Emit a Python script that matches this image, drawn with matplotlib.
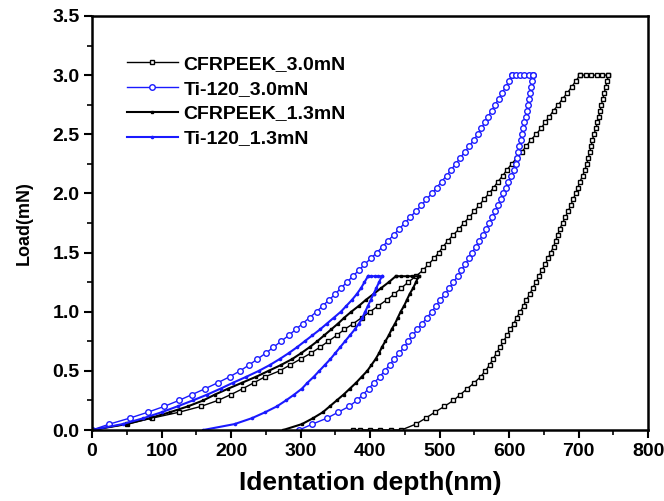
import matplotlib
matplotlib.use('Agg')
import matplotlib.pyplot as plt
from matplotlib.ticker import MultipleLocator

plt.rcParams['font.family'] = ['Liberation Sans', 'DejaVu Sans']
plt.rcParams['font.weight'] = 'bold'

# Load steps (mN) used for every branch
load_30 = [0.00, 0.05, 0.10, 0.15, 0.20, 0.25, 0.30, 0.35, 0.40, 0.45,
           0.50, 0.55, 0.60, 0.65, 0.70, 0.75, 0.80, 0.85, 0.90, 0.95,
           1.00, 1.05, 1.10, 1.15, 1.20, 1.25, 1.30, 1.35, 1.40, 1.45,
           1.50, 1.55, 1.60, 1.65, 1.70, 1.75, 1.80, 1.85, 1.90, 1.95,
           2.00, 2.05, 2.10, 2.15, 2.20, 2.25, 2.30, 2.35, 2.40, 2.45,
           2.50, 2.55, 2.60, 2.65, 2.70, 2.75, 2.80, 2.85, 2.90, 2.95, 3.00]
load_13 = [0.00, 0.05, 0.10, 0.15, 0.20, 0.25, 0.30, 0.35, 0.40, 0.45,
           0.50, 0.55, 0.60, 0.65, 0.70, 0.75, 0.80, 0.85, 0.90, 0.95,
           1.00, 1.05, 1.10, 1.15, 1.20, 1.25, 1.30]

# CFRPEEK 3.0 mN (depth in nm)
cf30_load_depth = [0, 50, 86, 125, 157, 181, 200, 217, 233, 249,
                   270, 285, 300, 315, 328, 340, 352, 363, 376, 388,
                   400, 412, 424, 435, 445, 455, 466, 476, 484, 492,
                   499, 505, 512, 520, 528, 535, 543, 550, 557, 564,
                   571, 578, 584, 591, 597, 604, 611, 618, 625, 631,
                   639, 646, 652, 658, 664, 671, 677, 684, 690, 696, 702]
cf30_hold_depth = [702, 710, 718, 726, 734, 743]
cf30_hold_load = [3.0, 3.0, 3.0, 3.0, 3.0, 3.0]
# unloading, listed from 3.00 mN down to 0
cf30_unload_depth = [743, 741, 739, 737, 735, 733, 731, 729, 727, 725,
                     722, 720, 718, 716, 714, 712, 709, 706, 702, 699,
                     696, 692, 689, 685, 681, 677, 673, 670, 667, 664,
                     660, 656, 652, 647, 643, 639, 634, 630, 625, 621,
                     616, 611, 607, 602, 597, 592, 587, 582, 577, 572,
                     566, 559, 550, 540, 530, 520, 507, 493, 480, 466, 445]
cf30_tail_depth = [430, 415, 400, 385, 375]
cf30_tail_load = [0.0, 0.0, 0.0, 0.0, 0.0]

# Ti-120 3.0 mN
ti30_load_depth = [0, 25, 54, 80, 104, 125, 144, 163, 181, 198,
                   213, 226, 238, 250, 261, 272, 283, 293, 303, 313,
                   323, 332, 341, 350, 358, 367, 375, 384, 392, 401,
                   410, 418, 426, 434, 442, 450, 458, 466, 474, 481,
                   489, 496, 503, 510, 517, 523, 530, 536, 543, 549,
                   555, 560, 565, 570, 575, 580, 585, 590, 595, 600, 604]
ti30_hold_depth = [604, 610, 616, 622, 628, 635]
ti30_hold_load = [3.0, 3.0, 3.0, 3.0, 3.0, 3.0]
ti30_unload_depth = [635, 633, 632, 630, 629, 627, 626, 624, 622, 620,
                     619, 617, 615, 613, 612, 610, 607, 603, 599, 596,
                     592, 588, 584, 580, 576, 571, 567, 562, 557, 552,
                     547, 542, 537, 531, 526, 520, 514, 508, 501, 495,
                     489, 482, 475, 468, 461, 455, 449, 442, 435, 428,
                     421, 414, 406, 398, 390, 381, 370, 354, 338, 317, 298]

# CFRPEEK 1.3 mN
cf13_load_depth = [0, 50, 83, 112, 138, 160, 177, 196, 216, 236,
                   254, 272, 288, 301, 313, 324, 334, 344, 354, 363,
                   373, 384, 394, 405, 416, 427, 437]
cf13_hold_depth = [437, 445, 453, 461, 470]
cf13_hold_load = [1.3, 1.3, 1.3, 1.3, 1.3]
cf13_unload_depth = [470, 466, 462, 457, 453, 449, 444, 440, 436, 431,
                     427, 422, 417, 413, 408, 402, 396, 388, 380, 371,
                     362, 352, 342, 332, 318, 302, 275]

# Ti-120 1.3 mN
ti13_load_depth = [0, 44, 74, 100, 123, 145, 166, 185, 203, 222,
                   240, 256, 270, 283, 295, 306, 317, 328, 338, 348,
                   358, 366, 374, 381, 387, 392, 397]
ti13_hold_depth = [397, 402, 407, 412, 417]
ti13_hold_load = [1.3, 1.3, 1.3, 1.3, 1.3]
ti13_unload_depth = [417, 413, 409, 405, 401, 397, 393, 389, 384, 378,
                     371, 364, 357, 350, 343, 335, 327, 319, 310, 302,
                     291, 279, 266, 249, 230, 205, 160]

x_ticks = [0, 100, 200, 300, 400, 500, 600, 700, 800]
y_ticks = [0.0, 0.5, 1.0, 1.5, 2.0, 2.5, 3.0, 3.5]

# assemble full cycles: loading -> hold -> unloading
cf30_x = cf30_load_depth + cf30_hold_depth + cf30_unload_depth + cf30_tail_depth
cf30_y = load_30 + cf30_hold_load + load_30[::-1] + cf30_tail_load
ti30_x = ti30_load_depth + ti30_hold_depth + ti30_unload_depth
ti30_y = load_30 + ti30_hold_load + load_30[::-1]
cf13_x = cf13_load_depth + cf13_hold_depth + cf13_unload_depth
cf13_y = load_13 + cf13_hold_load + load_13[::-1]
ti13_x = ti13_load_depth + ti13_hold_depth + ti13_unload_depth
ti13_y = load_13 + ti13_hold_load + load_13[::-1]

fig = plt.figure(figsize=(6.64, 5.01), dpi=100)
ax = fig.add_axes([0.1386, 0.1417, 0.8374, 0.8264])

blue = '#1a1aff'
ax.plot(cf30_x, cf30_y, color='black', lw=1.0, marker='s', ms=3.4,
        mfc='white', mec='black', mew=1.0, label='CFRPEEK_3.0mN')
ax.plot(ti30_x, ti30_y, color=blue, lw=1.0, marker='o', ms=4.0,
        mfc='white', mec=blue, mew=1.0, label='Ti-120_3.0mN')
ax.plot(cf13_x, cf13_y, color='black', lw=1.5, marker='s', ms=1.6,
        label='CFRPEEK_1.3mN')
ax.plot(ti13_x, ti13_y, color=blue, lw=1.5, marker='o', ms=1.6,
        label='Ti-120_1.3mN')

ax.set_xlim(0, 800)
ax.set_ylim(0, 3.5)
ax.set_xticks(x_ticks)
ax.set_yticks(y_ticks)
ax.set_yticklabels(['%.1f' % v for v in y_ticks])
ax.xaxis.set_minor_locator(MultipleLocator(50))
ax.yaxis.set_minor_locator(MultipleLocator(0.25))
ax.tick_params(which='major', direction='out', length=6, width=1.5,
               labelsize=14, pad=3)
ax.tick_params(which='minor', direction='out', length=3.5, width=1.2)
for s in ax.spines.values():
    s.set_linewidth(1.8)

ax.set_xlabel('Identation depth(nm)', fontsize=19, fontweight='bold', labelpad=8)
ax.set_ylabel('Load(mN)', fontsize=13, fontweight='bold', labelpad=14)

ax.legend(loc='upper left', bbox_to_anchor=(0.063, 0.905), frameon=False,
          borderaxespad=0, borderpad=0, labelspacing=0.37,
          handlelength=2.6, handletextpad=0.3,
          prop={'weight': 'bold', 'size': 14})

fig.savefig('out.png', dpi=100)
